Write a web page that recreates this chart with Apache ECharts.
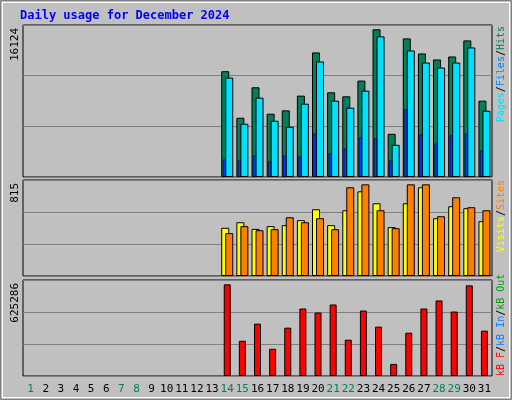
<!DOCTYPE html>
<html><head><meta charset="utf-8">
<script src="https://cdn.jsdelivr.net/npm/echarts@6/dist/echarts.min.js"></script>
<style>html,body{margin:0;padding:0;background:#c0c0c0}#c{width:512px;height:400px}</style>
</head><body><div id="c"></div>
<script>
var days = [];
for (var d = 1; d <= 31; d++) days.push(String(d));
var weekend = ['1','7','8','14','15','21','22','28','29'];
var N = null;
var pre = [N,N,N,N,N,N,N,N,N,N,N,N,N];
var hits = pre.concat([11547,6468,9793,6906,7272,8880,13594,9245,8807,10524,16124,4714,15129,13484,12827,13155,14909,8332]);
var files = pre.concat([10853,5810,8660,6139,5481,8003,12607,8332,7564,9428,15348,3508,13813,12497,11949,12497,14142,7235]);
var pages = pre.concat([1900,1790,2339,1681,2339,2229,4750,2558,3106,4312,4202,1790,7381,4641,3654,4531,4750,2887]);
var visits = pre.concat([443,494,433,458,467,513,613,467,604,778,668,449,668,815,531,641,623,504]);
var sites = pre.concat([394,458,421,430,540,494,531,430,815,842,604,439,842,842,549,723,632,604]);
var kbytes = pre.concat([625286,240400,357200,185450,329700,460200,432700,487700,247300,446500,336600,82420,295350,460200,515100,439600,618200,309100]);
var maxLabels = ['16124','815','625286'];
var axisMax = [16590, 882, 654800];

var chart = echarts.init(document.getElementById('c'));
var font = 'DejaVu Sans Mono';
var grids = [
  {left:23, width:469, top:25, height:152},
  {left:23, width:469, top:180, height:96},
  {left:23, width:469, top:280, height:96}
];
grids.forEach(function(g){ g.show = true; g.backgroundColor = '#c0c0c0'; g.borderColor = '#000'; g.borderWidth = 1; });

function xa(gi, show){
  return {type:'category', gridIndex:gi, data:days, boundaryGap:true,
    axisLine:{show:false}, axisTick:{show:false}, splitLine:{show:false},
    axisLabel:{show:show, margin:8, fontFamily:font, fontSize:11, interval:0,
      formatter:function(v){ return weekend.indexOf(v) >= 0 ? '{w|'+v+'}' : '{n|'+v+'}'; },
      rich:{w:{color:'#00805a', fontFamily:font, fontSize:11}, n:{color:'#000', fontFamily:font, fontSize:11}}}};
}
function ya(gi){
  return {type:'value', gridIndex:gi, min:0, max:axisMax[gi], interval:axisMax[gi]/3,
    axisLabel:{show:false}, axisLine:{show:false}, axisTick:{show:false},
    splitLine:{lineStyle:{color:'#808080', width:1}}};
}
var bs = {borderColor:'#000', borderWidth:1};
function bar(name, xi, yi, data, color, w, z){
  return {name:name, type:'bar', xAxisIndex:xi, yAxisIndex:yi, data:data, barWidth:w, barGap:'-50%',
    itemStyle:Object.assign({color:color}, bs), z:z, silent:true, animation:false};
}
var xAxes = [xa(0,false), xa(0,false), xa(1,false), xa(2,true)];
var yAxes = [ya(0), ya(1), ya(2)];
var series = [
  bar('Hits', 0, 0, hits, '#00805a', 8, 2),
  bar('Files', 0, 0, files, '#00e0ff', 8, 3),
  Object.assign(bar('Pages', 1, 0, pages, '#0040ff', 3, 4), {barGap:'0%', itemStyle:{color:'#0040ff', borderColor:'#000', borderWidth:0.6}}),
  Object.assign(bar('pad', 1, 0, pre.map(function(){return null;}), '#000', 6, 1), {barGap:'0%'}),
  bar('Visits', 2, 1, visits, '#ffff00', 8, 2),
  bar('Sites', 2, 1, sites, '#ff8000', 8, 3),
  bar('KBytes', 3, 2, kbytes, '#ff0000', 7, 2)
];

var fs = 10;
function vtext(x, y, text, align){
  return {type:'text', x:x, y:y, rotation:Math.PI/2,
    style:{text:text, rich:rich, fontFamily:font, fontSize:fs, align:align, verticalAlign:'middle'}};
}
function r(c){ return {fill:c, fontFamily:font, fontSize:fs}; }
var rich = {
  p:r('#00e0ff'), f:r('#0080ff'), h:r('#00805a'), s:r('#000'),
  v:r('#ffff00'), o:r('#ff8000'), g:r('#00a000'), b:r('#0080ff'), r:r('#ff0000')
};
var graphic = [
  {type:'rect', shape:{x:0.5, y:0.5, width:511, height:399}, style:{fill:'none', stroke:'#808080', lineWidth:1}},
  {type:'rect', shape:{x:2.5, y:2.5, width:507, height:395}, style:{fill:'none', stroke:'#fff', lineWidth:1}},
  {type:'text', x:20, y:10, style:{text:'Daily usage for December 2024', fill:'#0000ff', fontFamily:font, fontSize:12, fontWeight:'bold'}},
  vtext(501, 26, '{p|Pages}{s|/}{f|Files}{s|/}{h|Hits}', 'right'),
  vtext(501, 180, '{v|Visits}{s|/}{o|Sites}', 'right'),
  vtext(501, 376, '{r|kB F}{s|/}{b|kB In}{s|/}{g|kB Out}', 'left')
];
[25, 180, 280].forEach(function(y, i){
  graphic.push({type:'text', x:15, y:y+3, rotation:Math.PI/2,
    style:{text:maxLabels[i], fill:'#000', fontFamily:font, fontSize:11, align:'right', verticalAlign:'middle'}});
});
chart.setOption({
  animation:false,
  backgroundColor:'#c0c0c0',
  grid:grids, xAxis:xAxes, yAxis:yAxes, series:series, graphic:graphic
});
</script></body></html>
